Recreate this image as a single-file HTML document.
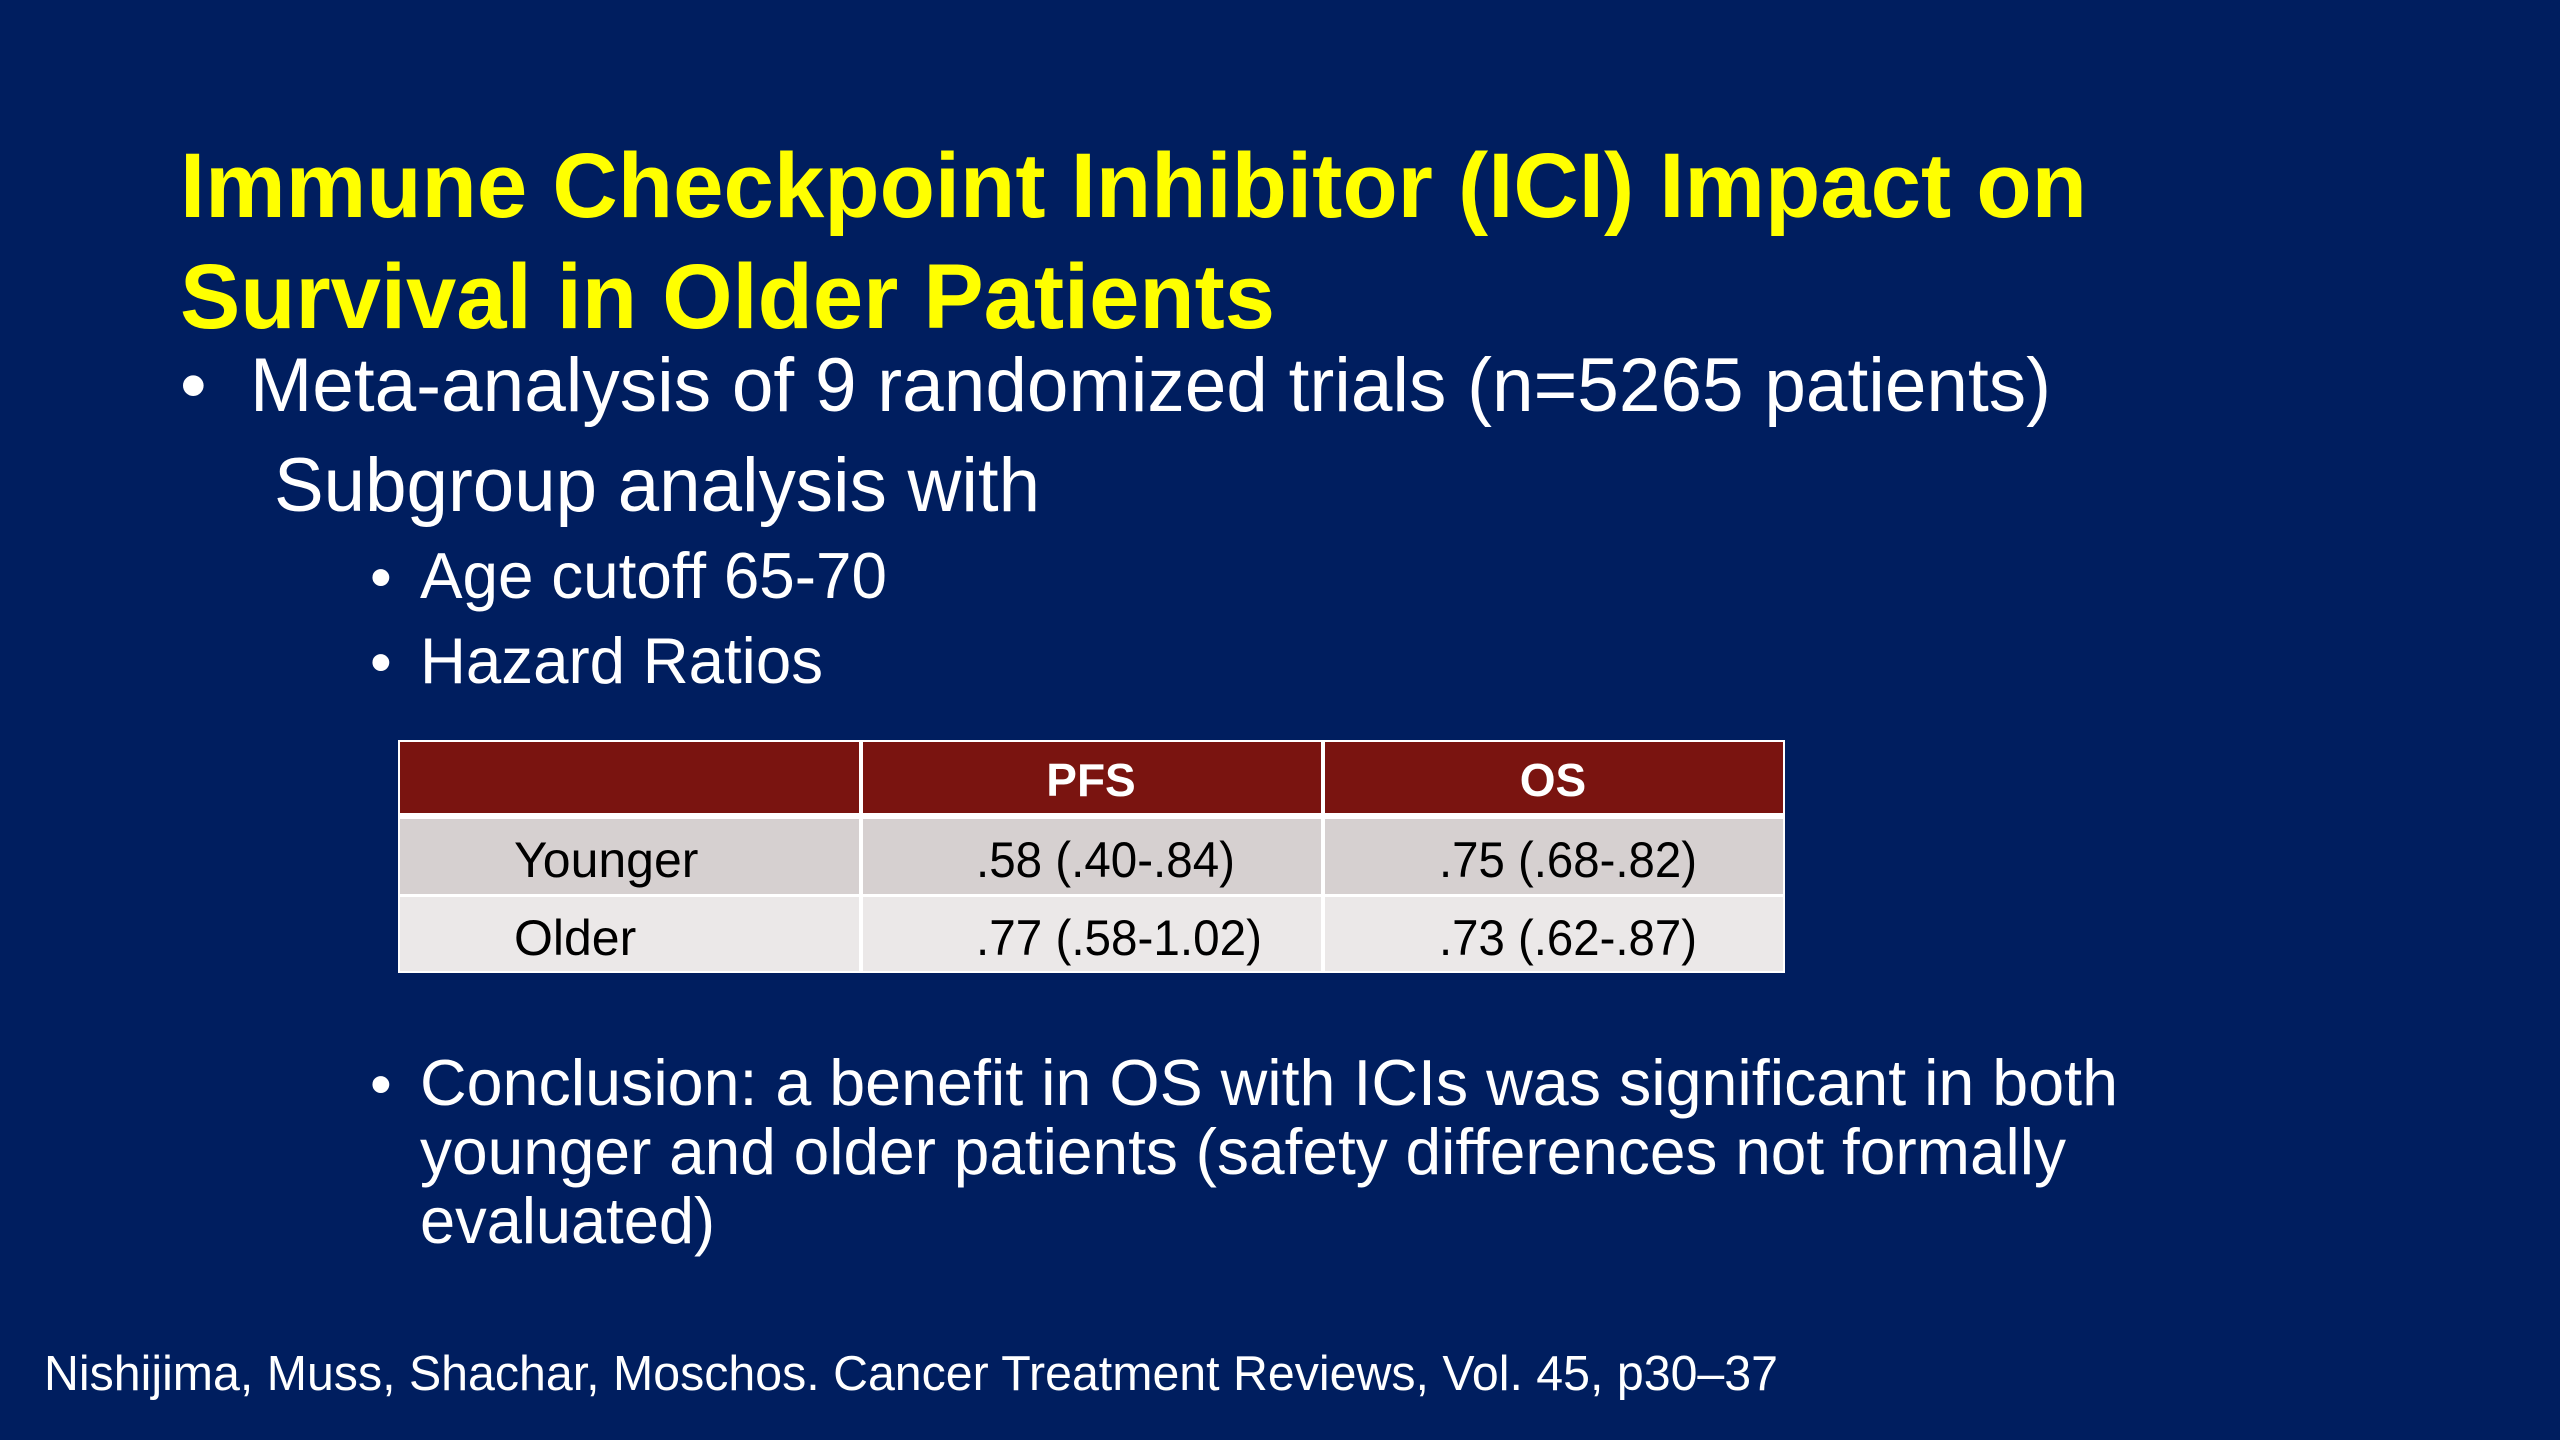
<!DOCTYPE html>
<html><head><meta charset="utf-8"><style>
html,body{margin:0;padding:0;background:#001e5f;}
svg{display:block;}
text{font-family:"Liberation Sans",Arial,sans-serif;}
</style></head><body>
<svg width="2560" height="1440" viewBox="0 0 2560 1440">
<rect x="0" y="0" width="2560" height="1440" fill="#001e5f"/>
<g fill="#ffff00" font-weight="bold" font-size="92">
<text x="180" y="217" textLength="1907" lengthAdjust="spacingAndGlyphs">Immune Checkpoint Inhibitor (ICI) Impact on</text>
<text x="180" y="328" textLength="1095" lengthAdjust="spacingAndGlyphs">Survival in Older Patients</text>
</g>
<g fill="#ffffff">
<text x="180" y="411" font-size="76">•</text>
<text x="250" y="411" font-size="76" textLength="1801" lengthAdjust="spacingAndGlyphs">Meta-analysis of 9 randomized trials (n=5265 patients)</text>
<text x="274" y="511" font-size="76" textLength="766" lengthAdjust="spacingAndGlyphs">Subgroup analysis with</text>
<text x="370" y="598" font-size="62">•</text>
<text x="420" y="598" font-size="65" textLength="467" lengthAdjust="spacingAndGlyphs">Age cutoff 65-70</text>
<text x="370" y="683" font-size="62">•</text>
<text x="420" y="683" font-size="65" textLength="403" lengthAdjust="spacingAndGlyphs">Hazard Ratios</text>
<text x="370" y="1105" font-size="62">•</text>
<g>
<text x="420" y="1105" font-size="65" textLength="1698" lengthAdjust="spacingAndGlyphs">Conclusion:  a benefit in OS with ICIs was significant in both</text>
<text x="420" y="1174" font-size="65" textLength="1646" lengthAdjust="spacingAndGlyphs">younger and older patients (safety differences not formally</text>
<text x="420" y="1243" font-size="65" textLength="295" lengthAdjust="spacingAndGlyphs">evaluated)</text>
</g>
</g>
<g>
<rect x="398" y="740" width="1387" height="233" fill="#ffffff"/>
<rect x="400" y="742" width="459" height="71" fill="#7a1410"/>
<rect x="863" y="742" width="458" height="71" fill="#7a1410"/>
<rect x="1325" y="742" width="458" height="71" fill="#7a1410"/>
<rect x="400" y="819" width="459" height="75" fill="#d6d0d0"/>
<rect x="863" y="819" width="458" height="75" fill="#d6d0d0"/>
<rect x="1325" y="819" width="458" height="75" fill="#d6d0d0"/>
<rect x="400" y="897" width="459" height="74" fill="#ebe8e8"/>
<rect x="863" y="897" width="458" height="74" fill="#ebe8e8"/>
<rect x="1325" y="897" width="458" height="74" fill="#ebe8e8"/>
<text x="1091" y="796" font-size="46" font-weight="bold" fill="#fff" text-anchor="middle">PFS</text>
<text x="1553" y="796" font-size="46" font-weight="bold" fill="#fff" text-anchor="middle">OS</text>
<g fill="#000" font-size="50">
<text x="514" y="877">Younger</text>
<text x="514" y="955">Older</text>
<text x="976" y="877" textLength="259" lengthAdjust="spacingAndGlyphs">.58 (.40-.84)</text>
<text x="1439" y="877" textLength="258" lengthAdjust="spacingAndGlyphs">.75 (.68-.82)</text>
<text x="976" y="955" textLength="286" lengthAdjust="spacingAndGlyphs">.77 (.58-1.02)</text>
<text x="1439" y="955" textLength="258" lengthAdjust="spacingAndGlyphs">.73 (.62-.87)</text>
</g>
</g>
<text x="44" y="1390" font-size="49" fill="#fff" textLength="1734" lengthAdjust="spacingAndGlyphs">Nishijima, Muss, Shachar, Moschos.  Cancer Treatment Reviews, Vol. 45, p30–37</text>
</svg>
</body></html>
